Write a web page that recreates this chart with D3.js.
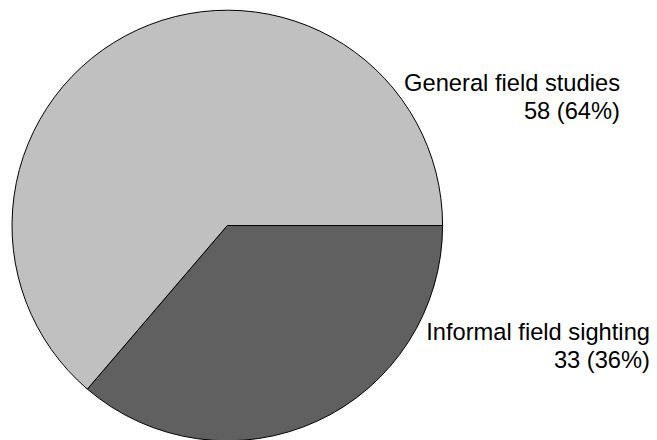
<!DOCTYPE html>
<html>
<head>
<meta charset="utf-8">
<script src="https://cdn.jsdelivr.net/npm/d3@7"></script>
<style>
html,body{margin:0;padding:0;background:#fff;}
svg{display:block;}
</style>
</head>
<body>
<svg id="chart" width="657" height="440"></svg>
<script>
const categories = ["Informal field sighting", "General field studies"];
const values = [33, 58];
const percents = ["36%", "64%"];
const colors = ["#606060", "#c0c0c0"];

const W = 657, H = 440;
const cx = 227.3, cy = 225.5, R = 215.3;
const svg = d3.select("#chart");

const pie = d3.pie().sort(null).value(d => d)
  .startAngle(Math.PI / 2).endAngle(Math.PI / 2 + 2 * Math.PI);
const arcs = pie(values);
const arc = d3.arc().innerRadius(0).outerRadius(R);

const g = svg.append("g").attr("transform", `translate(${cx},${cy})`);
g.selectAll("path").data(arcs).enter().append("path")
  .attr("d", arc)
  .attr("fill", (d, i) => colors[i])
  .attr("stroke", "#000")
  .attr("stroke-width", 1)
  .attr("stroke-linejoin", "round");

// label anchor positions (right edge, first baseline)
const labelPos = [[650, 339.5], [620, 90.5]];
const fs = 23.7;
categories.forEach((c, i) => {
  const t = svg.append("text")
    .attr("text-anchor", "end")
    .attr("font-family", "Liberation Sans, Arial, sans-serif")
    .attr("font-size", fs)
    .attr("fill", "#000");
  t.append("tspan").attr("x", labelPos[i][0]).attr("y", labelPos[i][1]).text(c);
  t.append("tspan").attr("x", labelPos[i][0]).attr("y", labelPos[i][1] + 28)
    .text(`${values[i]} (${percents[i]})`);
});
</script>
</body>
</html>
